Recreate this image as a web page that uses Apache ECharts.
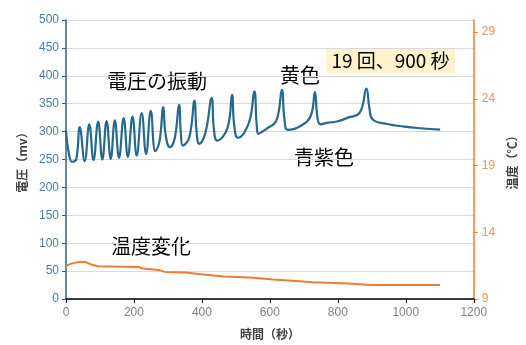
<!DOCTYPE html>
<html>
<head>
<meta charset="utf-8">
<script src="https://cdn.jsdelivr.net/npm/echarts@6/dist/echarts.min.js"></script>
<style>
html,body{margin:0;padding:0;background:#fff;}
#c{width:526px;height:345px;}
</style>
</head>
<body>
<div id="c"></div>
<script>
// Voltage (mV) vs time (s)
const voltTime = [0, 8, 18, 30, 40.5, 55, 68.5, 81, 94.6, 107, 119.4, 131.6, 143.7, 156, 169.7, 182, 195.8, 208, 222.7, 235.7, 249.5, 263, 275, 286.3, 293, 305.6, 320, 332.6, 338, 344, 363, 378, 384, 392, 410, 428.8, 435, 445, 475, 488.7, 495, 506, 538, 554.3, 561, 566, 590, 619, 635.3, 643, 653, 690, 720, 732.4, 740, 749, 770, 797, 830, 864.6, 884, 893, 902, 945.6, 995, 1044, 1101];
const voltValue = [302, 262, 246, 250, 308, 247, 313, 249, 318, 250, 319, 251, 320, 253, 324, 254.5, 327, 257, 333, 260, 337, 265, 282, 344, 295, 272, 288, 348, 298, 275, 290, 355, 302, 278, 297, 360, 306, 284, 306, 366, 312, 289, 315, 372, 314, 296, 305, 319.5, 375, 322, 303, 310, 328, 371, 326, 313, 316, 318, 325, 334, 377, 342, 322, 313.6, 309, 306, 303.5];
// Temperature (°C) vs time (s)
const tempTime = [0, 15, 40, 55, 79, 94, 214, 225, 272, 291, 351, 397, 465, 542, 609, 667, 725, 831, 898, 1101];
const tempValue = [11.48, 11.65, 11.78, 11.78, 11.55, 11.45, 11.4, 11.28, 11.18, 11.03, 10.98, 10.86, 10.69, 10.61, 10.46, 10.37, 10.26, 10.17, 10.04, 10.04];
// Axis ticks
const xTicks = [0, 200, 400, 600, 800, 1000, 1200];
const tempTicks = [9, 14, 19, 24, 29];

const BLUE = '#25698d';
const ORANGE = '#ed7d31';
const JP = '"Noto Sans CJK JP", sans-serif';
const NUM = '"Liberation Sans", Arial, sans-serif';

const voltData = voltTime.map((t, i) => [t, voltValue[i]]);
const tempData = tempTime.map((t, i) => [t, tempValue[i]]);

const chart = echarts.init(document.getElementById('c'), null, {renderer: 'canvas'});
chart.setOption({
  animation: false,
  backgroundColor: '#fff',
  grid: {left: 66, right: 45, top: 20, bottom: 43.3},
  xAxis: {
    type: 'value', min: xTicks[0], max: xTicks[xTicks.length - 1], interval: 200,
    name: '時間（秒）', nameLocation: 'middle', nameGap: 29,
    nameTextStyle: {fontFamily: JP, fontSize: 12, fontWeight: 'bold', color: '#404040'},
    axisLine: {show: true, onZero: false, lineStyle: {color: '#000', width: 1.5}},
    axisTick: {show: true, inside: false, length: 4, lineStyle: {color: '#000'}},
    axisLabel: {color: '#7f7f7f', fontFamily: NUM, fontSize: 12, margin: 8, formatter: v => String(v)},
    splitLine: {show: false}
  },
  yAxis: [{
    type: 'value', min: 0, max: 500, interval: 50, position: 'left',
    name: '電圧（mv）', nameLocation: 'middle', nameGap: 38,
    nameTextStyle: {fontFamily: JP, fontSize: 12, fontWeight: 'bold', color: '#404040'},
    axisLine: {show: true, lineStyle: {color: BLUE, width: 1.5}},
    axisTick: {show: true, inside: false, length: 4, lineStyle: {color: BLUE}},
    axisLabel: {color: '#4a7fa3', fontFamily: NUM, fontSize: 12, margin: 7},
    splitLine: {show: true, lineStyle: {color: '#d9d9d9', width: 1}}
  }, {
    type: 'value', min: 9, max: 29.9, position: 'right',
    name: '温度（℃）', nameLocation: 'middle', nameGap: 32,
    nameTextStyle: {fontFamily: JP, fontSize: 12, fontWeight: 'bold', color: '#404040'},
    axisLine: {show: true, lineStyle: {color: ORANGE, width: 1.5}},
    axisTick: {show: true, inside: false, length: 4, lineStyle: {color: ORANGE}, customValues: tempTicks},
    axisLabel: {color: '#f0925a', fontFamily: NUM, fontSize: 12, margin: 8, customValues: tempTicks},
    splitLine: {show: false}
  }],
  series: [{
    type: 'line', name: '電圧', yAxisIndex: 0, data: voltData,
    showSymbol: false, smooth: 0.45, lineStyle: {color: BLUE, width: 2.2}, z: 3
  }, {
    type: 'line', name: '温度', yAxisIndex: 1, data: tempData,
    showSymbol: false, smooth: false, lineStyle: {color: ORANGE, width: 2}, z: 2
  }],
  graphic: [
    {type: 'text', x: 157, y: 81, style: {text: '電圧の振動', font: '20px ' + JP, fill: '#000', textAlign: 'center', textVerticalAlign: 'middle'}},
    {type: 'text', x: 300, y: 75, style: {text: '黄色', font: '20px ' + JP, fill: '#000', textAlign: 'center', textVerticalAlign: 'middle'}},
    {type: 'rect', shape: {x: 326, y: 48, width: 129, height: 25}, style: {fill: '#fff2cc'}},
    {type: 'text', x: 390.5, y: 61, style: {text: '19 回、900 秒', font: '19px ' + JP, fill: '#000', textAlign: 'center', textVerticalAlign: 'middle'}},
    {type: 'text', x: 324, y: 157, style: {text: '青紫色', font: '20px ' + JP, fill: '#000', textAlign: 'center', textVerticalAlign: 'middle'}},
    {type: 'text', x: 151, y: 246, style: {text: '温度変化', font: '20px ' + JP, fill: '#000', textAlign: 'center', textVerticalAlign: 'middle'}}
  ]
});
</script>
</body>
</html>
